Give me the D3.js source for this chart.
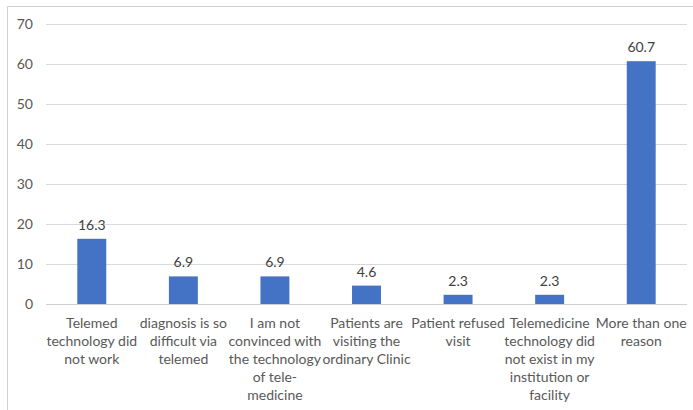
<!DOCTYPE html>
<html><head><meta charset="utf-8">
<script src="https://cdn.jsdelivr.net/npm/d3@7"></script>
<style>body{margin:0;background:#fff}svg{display:block}</style>
</head><body>
<script>
const categories = [
  ["Telemed","technology did","not work"],
  ["diagnosis is so","difficult via","telemed"],
  ["I am not","convinced with","the technology","of tele-","medicine"],
  ["Patients are","visiting the","ordinary Clinic"],
  ["Patient refused","visit"],
  ["Telemedicine","technology did","not exist in my","institution or","facility"],
  ["More than one","reason"]
];
const values = [16.3, 6.9, 6.9, 4.6, 2.3, 2.3, 60.7];
const yTicks = [0,10,20,30,40,50,60,70];

const W = 693, H = 410;
const font = "Lato, 'Open Sans', sans-serif";
const svg = d3.select("body").append("svg").attr("width", W).attr("height", H);
svg.append("rect").attr("x",0).attr("y",0).attr("width",W).attr("height",H).attr("fill","#fff");
svg.append("path").attr("d", `M7.5,${H} V6.5 H${W}`).attr("fill","none").attr("stroke","#d0d0d0").attr("stroke-width",1);

const x = d3.scaleBand().domain(d3.range(values.length)).range([46, 687]).paddingInner(0.684).paddingOuter(0.342);
const y = d3.scaleLinear().domain([0,70]).range([304, 24]);

const yAxis = d3.axisLeft(y).tickValues(yTicks).tickSize(-(687-46)).tickPadding(13);
const gy = svg.append("g").attr("transform","translate(46,0)").call(yAxis);
gy.select(".domain").remove();
gy.selectAll(".tick line").attr("stroke","#d9d9d9").attr("stroke-width",1);
gy.selectAll(".tick text").attr("fill","#595959").style("font-family",font).style("font-size","14px");
gy.selectAll(".tick").filter(d=>d===0).select("line").attr("stroke","#d0d0d0");

svg.selectAll("rect.bar").data(values).enter().append("rect").attr("class","bar")
  .attr("x",(d,i)=>x(i)).attr("width",x.bandwidth())
  .attr("y",d=>y(d)).attr("height",d=>y(0)-y(d)).attr("fill","#4472C4");

svg.selectAll("text.val").data(values).enter().append("text").attr("class","val")
  .attr("x",(d,i)=>x(i)+x.bandwidth()/2).attr("y",d=>y(d)-9)
  .attr("text-anchor","middle").attr("fill","#404040")
  .style("font-family",font).style("font-size","14px").text(d=>d.toFixed(1));

const lab = svg.selectAll("text.cat").data(categories).enter().append("text").attr("class","cat")
  .attr("text-anchor","middle").attr("fill","#595959")
  .style("font-family",font).style("font-size","14px");
lab.each(function(lines,i){
  const t = d3.select(this);
  lines.forEach((l,j)=>{
    t.append("tspan").attr("x", x(i)+x.bandwidth()/2).attr("y", 328 + j*18).text(l);
  });
});
</script>
</body></html>
